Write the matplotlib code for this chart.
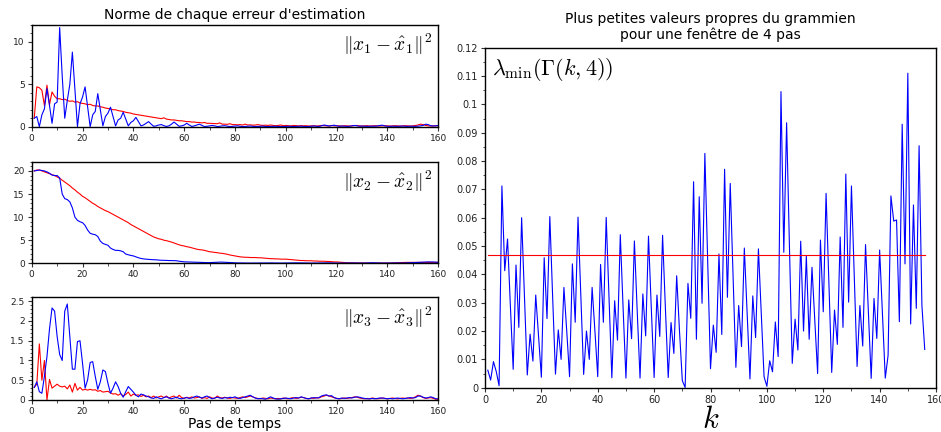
import matplotlib
matplotlib.use("Agg")
import matplotlib.pyplot as plt
from matplotlib.ticker import MultipleLocator

plt.rcParams['mathtext.fontset'] = 'cm'
plt.rcParams['font.family'] = ['DejaVu Sans']

# ---------------- data ----------------
steps = list(range(1, 161))

err1_blue = [1.0, 1.2, 0.0, 1.4, 2.1, 4.5, 2.5, 0.4, 2.7, 2.9,
             11.7, 6.0, 1.0, 3.1, 5.0, 8.8, 4.4, 0.0, 2.7, 3.5,
             4.7, 2.3, 0.0, 1.4, 1.8, 3.9, 2.0, 0.1, 1.2, 1.6,
             2.3, 1.2, 0.1, 0.8, 1.0, 1.7, 0.9, 0.1, 0.5, 0.7,
             1.1, 0.6, 0.1, 0.2, 0.4, 0.6, 0.3, 0.05, 0.1, 0.2,
             0.25, 0.12, 0.03, 0.1, 0.3, 0.55, 0.3, 0.05, 0.1, 0.2,
             0.4, 0.2, 0.03, 0.1, 0.2, 0.3, 0.15, 0.02, 0.05, 0.1,
             0.15, 0.1, 0.02, 0.05, 0.1, 0.12, 0.06, 0.02, 0.04, 0.08,
             0.1, 0.05, 0.02, 0.03, 0.06, 0.08, 0.04, 0.02, 0.03, 0.05,
             0.06, 0.03, 0.02, 0.03, 0.04, 0.05, 0.03, 0.01, 0.02, 0.04,
             0.05, 0.03, 0.02, 0.03, 0.05, 0.06, 0.04, 0.02, 0.03, 0.06,
             0.08, 0.05, 0.03, 0.1, 0.2, 0.15, 0.08, 0.12, 0.18, 0.1,
             0.05, 0.08, 0.06, 0.04, 0.05, 0.1, 0.15, 0.1, 0.05, 0.08,
             0.06, 0.04, 0.05, 0.07, 0.05, 0.08, 0.15, 0.18, 0.08, 0.05,
             0.04, 0.06, 0.05, 0.04, 0.06, 0.08, 0.05, 0.04, 0.06, 0.05,
             0.04, 0.06, 0.1, 0.15, 0.3, 0.25, 0.12, 0.08, 0.1, 0.15]

err1_red = [1.0, 4.7, 4.6, 4.3, 2.5, 4.9, 2.6, 4.1, 3.6, 3.3,
            3.3, 3.2, 3.25, 3.1, 3.0, 3.05, 2.9, 2.95, 2.8, 2.75,
            2.7, 2.6, 2.65, 2.5, 2.45, 2.45, 2.35, 2.3, 2.2, 2.15,
            2.1, 2.0, 2.0, 1.9, 1.85, 1.8, 1.7, 1.65, 1.6, 1.5,
            1.45, 1.4, 1.35, 1.3, 1.25, 1.2, 1.15, 1.1, 1.05, 1.0,
            0.95, 1.05, 0.9, 0.85, 0.8, 0.8, 0.75, 0.7, 0.7, 0.65,
            0.6, 0.6, 0.55, 0.55, 0.5, 0.5, 0.45, 0.5, 0.4, 0.4,
            0.38, 0.35, 0.35, 0.45, 0.3, 0.3, 0.28, 0.35, 0.25, 0.25,
            0.22, 0.25, 0.2, 0.3, 0.2, 0.22, 0.18, 0.2, 0.25, 0.18,
            0.15, 0.18, 0.15, 0.2, 0.15, 0.12, 0.15, 0.2, 0.12, 0.15,
            0.12, 0.1, 0.15, 0.12, 0.1, 0.13, 0.1, 0.12, 0.08, 0.1,
            0.12, 0.08, 0.1, 0.15, 0.12, 0.1, 0.08, 0.15, 0.1, 0.12,
            0.1, 0.08, 0.12, 0.1, 0.08, 0.1, 0.12, 0.15, 0.1, 0.08,
            0.1, 0.12, 0.08, 0.1, 0.12, 0.1, 0.08, 0.1, 0.12, 0.1,
            0.08, 0.1, 0.12, 0.1, 0.08, 0.1, 0.12, 0.1, 0.08, 0.1,
            0.15, 0.2, 0.3, 0.25, 0.15, 0.1, 0.08, 0.1, 0.12, 0.1]

err2_blue = [20.0, 20.1, 20.2, 20.1, 20.0, 19.8, 19.5, 19.1, 19.0, 19.0,
             18.5, 15.0, 14.0, 13.8, 13.3, 12.0, 10.0, 9.3, 9.0, 8.8,
             8.2, 7.2, 6.5, 6.3, 6.2, 5.8, 4.8, 4.3, 4.1, 3.9,
             3.3, 3.0, 2.8, 2.8, 2.7, 2.5, 2.0, 1.85, 1.7, 1.6,
             1.4, 1.2, 1.05, 0.95, 0.9, 0.85, 0.8, 0.78, 0.75, 0.7,
             0.65, 0.65, 0.62, 0.6, 0.6, 0.58, 0.55, 0.45, 0.38, 0.32,
             0.3, 0.28, 0.25, 0.22, 0.2, 0.18, 0.17, 0.16, 0.15, 0.15,
             0.18, 0.2, 0.22, 0.25, 0.25, 0.22, 0.18, 0.15, 0.12, 0.1,
             0.08, 0.07, 0.06, 0.05, 0.05, 0.05, 0.05, 0.05, 0.05, 0.05,
             0.06, 0.07, 0.08, 0.08, 0.07, 0.06, 0.05, 0.05, 0.06, 0.07,
             0.08, 0.09, 0.1, 0.1, 0.09, 0.08, 0.07, 0.06, 0.05, 0.05,
             0.06, 0.07, 0.08, 0.1, 0.12, 0.12, 0.1, 0.08, 0.07, 0.06,
             0.05, 0.05, 0.06, 0.08, 0.1, 0.1, 0.08, 0.06, 0.05, 0.05,
             0.06, 0.08, 0.1, 0.12, 0.1, 0.08, 0.06, 0.05, 0.05, 0.05,
             0.06, 0.07, 0.08, 0.08, 0.07, 0.06, 0.08, 0.1, 0.12, 0.15,
             0.18, 0.2, 0.22, 0.25, 0.28, 0.3, 0.3, 0.28, 0.25, 0.22]

err2_red = [20.0, 20.2, 20.2, 20.0, 19.8, 19.6, 19.4, 19.2, 19.0, 18.7,
            18.4, 18.0, 17.6, 17.2, 16.8, 16.3, 15.9, 15.4, 15.0, 14.5,
            14.2, 13.8, 13.4, 13.0, 12.7, 12.3, 12.0, 11.7, 11.4, 11.2,
            10.9, 10.6, 10.3, 10.0, 9.7, 9.4, 9.1, 8.8, 8.4, 8.1,
            7.8, 7.5, 7.2, 6.9, 6.6, 6.3, 6.0, 5.7, 5.5, 5.3,
            5.2, 5.0, 4.9, 4.75, 4.6, 4.4, 4.2, 4.0, 3.85, 3.75,
            3.6, 3.5, 3.35, 3.2, 3.05, 2.95, 2.9, 2.8, 2.65, 2.5,
            2.45, 2.35, 2.3, 2.2, 2.15, 2.05, 1.95, 1.8, 1.7, 1.6,
            1.5, 1.4, 1.35, 1.3, 1.3, 1.25, 1.25, 1.25, 1.2, 1.2,
            1.15, 1.1, 1.05, 1.0, 1.0, 0.95, 0.95, 0.9, 0.9, 0.9,
            0.85, 0.8, 0.75, 0.7, 0.65, 0.6, 0.6, 0.55, 0.55, 0.55,
            0.5, 0.5, 0.45, 0.45, 0.45, 0.4, 0.4, 0.35, 0.3, 0.3,
            0.25, 0.2, 0.15, 0.12, 0.1, 0.08, 0.08, 0.07, 0.06, 0.06,
            0.05, 0.05, 0.04, 0.04, 0.03, 0.03, 0.03, 0.02, 0.02, 0.02,
            0.05, 0.08, 0.1, 0.12, 0.15, 0.18, 0.2, 0.2, 0.2, 0.2,
            0.2, 0.2, 0.2, 0.2, 0.2, 0.2, 0.2, 0.2, 0.2, 0.2]

err3_blue = [0.32, 0.46, 0.21, 0.17, 0.6, 1.1, 1.8, 2.33, 2.25, 1.61,
             1.15, 1.0, 2.25, 2.43, 1.6, 0.78, 0.78, 1.48, 1.5, 0.93,
             0.30, 0.51, 0.95, 0.97, 0.6, 0.27, 0.46, 0.76, 0.72, 0.42,
             0.17, 0.30, 0.46, 0.34, 0.17, 0.07, 0.21, 0.34, 0.27, 0.2,
             0.12, 0.08, 0.15, 0.13, 0.1, 0.08, 0.05, 0.04, 0.08, 0.05,
             0.03, 0.06, 0.08, 0.05, 0.03, 0.05, 0.07, 0.04, 0.03, 0.05,
             0.06, 0.04, 0.05, 0.08, 0.1, 0.07, 0.05, 0.08, 0.1, 0.06,
             0.03, 0.05, 0.07, 0.05, 0.04, 0.06, 0.05, 0.07, 0.06, 0.08,
             0.05, 0.04, 0.06, 0.08, 0.1, 0.12, 0.08, 0.05, 0.03, 0.04,
             0.03, 0.02, 0.05, 0.08, 0.05, 0.03, 0.02, 0.03, 0.04, 0.05,
             0.04, 0.03, 0.05, 0.06, 0.05, 0.08, 0.06, 0.04, 0.03, 0.05,
             0.06, 0.05, 0.06, 0.1, 0.12, 0.13, 0.1, 0.11, 0.06, 0.04,
             0.03, 0.05, 0.04, 0.05, 0.06, 0.05, 0.07, 0.08, 0.07, 0.05,
             0.04, 0.03, 0.03, 0.04, 0.03, 0.04, 0.05, 0.05, 0.04, 0.03,
             0.04, 0.03, 0.04, 0.05, 0.04, 0.03, 0.04, 0.05, 0.06, 0.05,
             0.06, 0.1, 0.1, 0.07, 0.05, 0.06, 0.08, 0.06, 0.03, 0.03]

err3_red = [0.32, 0.4, 1.42, 0.5, 1.0, 0.0, 0.52, 0.3, 0.35, 0.4,
            0.35, 0.33, 0.35, 0.28, 0.38, 0.2, 0.42, 0.25, 0.32, 0.25,
            0.27, 0.25, 0.27, 0.25, 0.26, 0.22, 0.24, 0.20, 0.21, 0.22,
            0.18, 0.15, 0.16, 0.12, 0.16, 0.1, 0.14, 0.2, 0.1, 0.15,
            0.12, 0.13, 0.09, 0.12, 0.08, 0.1, 0.06, 0.1, 0.05, 0.08,
            0.1, 0.06, 0.1, 0.05, 0.08, 0.1, 0.05, 0.12, 0.06, 0.04,
            0.07, 0.05, 0.08, 0.05, 0.06, 0.08, 0.04, 0.06, 0.04, 0.08,
            0.05, 0.04, 0.1, 0.06, 0.05, 0.07, 0.05, 0.04, 0.06, 0.05,
            0.04, 0.06, 0.08, 0.06, 0.08, 0.1, 0.08, 0.05, 0.04, 0.03,
            0.05, 0.04, 0.03, 0.05, 0.04, 0.03, 0.04, 0.03, 0.05, 0.04,
            0.03, 0.05, 0.06, 0.04, 0.05, 0.07, 0.06, 0.04, 0.03, 0.05,
            0.04, 0.06, 0.05, 0.08, 0.1, 0.12, 0.1, 0.08, 0.06, 0.04,
            0.03, 0.04, 0.05, 0.04, 0.05, 0.06, 0.08, 0.07, 0.05, 0.04,
            0.03, 0.04, 0.03, 0.05, 0.04, 0.03, 0.04, 0.05, 0.04, 0.03,
            0.04, 0.05, 0.04, 0.03, 0.04, 0.05, 0.04, 0.05, 0.04, 0.05,
            0.08, 0.12, 0.1, 0.06, 0.04, 0.05, 0.06, 0.04, 0.02, 0.02]

k_vals = list(range(1, 157))
lambda_min = [0.0062, 0.0027, 0.0092, 0.0057, 0.0007, 0.0712, 0.0413, 0.0525, 0.029, 0.0065,
              0.0433, 0.0213, 0.0600, 0.032, 0.0045, 0.0189, 0.0094, 0.0327, 0.018, 0.0037,
              0.0459, 0.0244, 0.0604, 0.032, 0.0048, 0.0204, 0.0100, 0.0354, 0.020, 0.0039,
              0.0437, 0.0231, 0.0602, 0.032, 0.0047, 0.0200, 0.0100, 0.0354, 0.020, 0.0039,
              0.0435, 0.0231, 0.0601, 0.032, 0.0035, 0.0307, 0.0168, 0.0540, 0.028, 0.0034,
              0.0310, 0.0173, 0.0518, 0.027, 0.0034, 0.0331, 0.0183, 0.0535, 0.028, 0.0036,
              0.0327, 0.0181, 0.0538, 0.028, 0.0036, 0.0230, 0.0121, 0.0395, 0.020, 0.0025,
              0.0001, 0.0368, 0.0245, 0.0727, 0.0171, 0.0674, 0.0298, 0.0827, 0.045, 0.0067,
              0.0221, 0.0125, 0.0472, 0.0188, 0.0771, 0.0319, 0.0721, 0.040, 0.0072, 0.0290,
              0.0145, 0.0493, 0.026, 0.0031, 0.0324, 0.0177, 0.0490, 0.026, 0.0039, 0.0005,
              0.0095, 0.0056, 0.0232, 0.0110, 0.1045, 0.0478, 0.0935, 0.050, 0.0086, 0.0242,
              0.0133, 0.0517, 0.0200, 0.0464, 0.0171, 0.0425, 0.024, 0.0050, 0.0521, 0.0268,
              0.0686, 0.037, 0.0054, 0.0274, 0.0153, 0.0532, 0.0213, 0.0754, 0.0302, 0.0712,
              0.039, 0.0075, 0.0290, 0.0147, 0.0505, 0.027, 0.0033, 0.0315, 0.0174, 0.0486,
              0.026, 0.0034, 0.0114, 0.0677, 0.0588, 0.0592, 0.0233, 0.0930, 0.0437, 0.1110,
              0.0225, 0.0645, 0.0280, 0.0854, 0.0290, 0.0135]
threshold = 0.0468

# ---------------- figure ----------------
fig = plt.figure(figsize=(9.41, 4.32), dpi=100)

left_x, left_w = 0.0337, 0.4321
ax1 = fig.add_axes([left_x, 0.7067, left_w, 0.2354])
ax2 = fig.add_axes([left_x, 0.3905, left_w, 0.2352])
ax3 = fig.add_axes([left_x, 0.0741, left_w, 0.2377])
ax4 = fig.add_axes([0.5154, 0.1025, 0.4793, 0.7871])

blue = '#0000ff'
red = '#ff0000'
lw = 0.8

ax1.plot(steps, err1_red, color=red, lw=lw)
ax1.plot(steps, err1_blue, color=blue, lw=lw)
ax2.plot(steps, err2_red, color=red, lw=lw)
ax2.plot(steps, err2_blue, color=blue, lw=lw)
ax3.plot(steps, err3_red, color=red, lw=lw)
ax3.plot(steps, err3_blue, color=blue, lw=lw)

ax1.set_ylim(0, 12)
ax1.yaxis.set_major_locator(MultipleLocator(5))
ax1.yaxis.set_minor_locator(MultipleLocator(1))
ax2.set_ylim(0, 22)
ax2.yaxis.set_major_locator(MultipleLocator(5))
ax2.yaxis.set_minor_locator(MultipleLocator(1))
ax3.set_ylim(0, 2.6)
ax3.yaxis.set_major_locator(MultipleLocator(0.5))
ax3.yaxis.set_minor_locator(MultipleLocator(0.1))

for ax in (ax1, ax2, ax3):
    ax.set_xlim(0, 160)
    ax.xaxis.set_major_locator(MultipleLocator(20))
    ax.xaxis.set_minor_locator(MultipleLocator(10))

ax3.yaxis.set_major_formatter(plt.FuncFormatter(lambda v, p: ('%g' % v)))

ax1.set_title("Norme de chaque erreur d'estimation", fontsize=10, pad=4)
ax3.set_xlabel("Pas de temps", fontsize=10, labelpad=1)

ann_kw = dict(ha='right', va='top', fontsize=14)
ax1.text(0.985, 0.93, r'$\|x_1-\hat{x}_1\|^2$', transform=ax1.transAxes, **ann_kw)
ax2.text(0.985, 0.93, r'$\|x_2-\hat{x}_2\|^2$', transform=ax2.transAxes, **ann_kw)
ax3.text(0.985, 0.93, r'$\|x_3-\hat{x}_3\|^2$', transform=ax3.transAxes, **ann_kw)

ax4.plot(k_vals, lambda_min, color=blue, lw=lw)
ax4.plot([k_vals[0], k_vals[-1]], [threshold, threshold], color=red, lw=0.8)
ax4.set_xlim(0, 160)
ax4.set_ylim(0, 0.12)
ax4.xaxis.set_major_locator(MultipleLocator(20))
ax4.xaxis.set_minor_locator(MultipleLocator(10))
ax4.yaxis.set_major_locator(MultipleLocator(0.01))
ax4.yaxis.set_minor_locator(MultipleLocator(0.005))
ax4.yaxis.set_major_formatter(plt.FuncFormatter(lambda v, p: ('%g' % round(v, 3))))
ax4.set_title("Plus petites valeurs propres du grammien\npour une fenêtre de 4 pas",
              fontsize=10, pad=6)
ax4.set_xlabel(r'$k$', fontsize=22, labelpad=0)
ax4.text(0.015, 0.975, r'$\lambda_{\min}(\Gamma(k,4))$', transform=ax4.transAxes,
         ha='left', va='top', fontsize=16)

for ax in (ax1, ax2, ax3, ax4):
    ax.tick_params(axis='both', which='major', labelsize=6.5, length=3, width=0.8,
                   pad=2, color='#333333', labelcolor='#222222')
    ax.tick_params(axis='both', which='minor', length=1.8, width=0.6, color='#333333')
    for s in ax.spines.values():
        s.set_linewidth(1.0)
ax4.tick_params(axis='both', which='major', labelsize=7)

fig.savefig('out.png', dpi=100)
